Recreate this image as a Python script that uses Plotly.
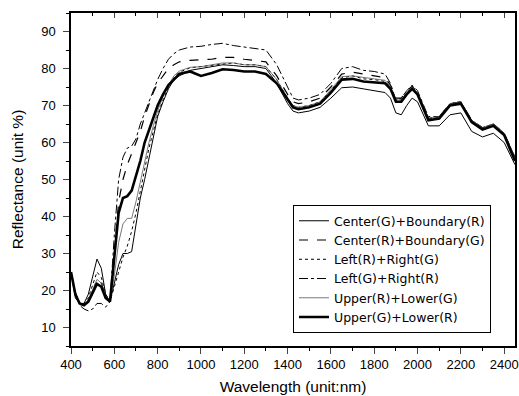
import plotly.graph_objects as go

wavelength = [400, 420, 440, 460, 480, 500, 520, 540, 560, 580, 600, 620, 640, 660, 680, 700,
              720, 740, 760, 780, 800, 825, 850, 875, 900, 950, 1000, 1050, 1100, 1150, 1200,
              1250, 1300, 1350, 1400, 1425, 1450, 1500, 1550, 1600, 1650, 1700, 1750, 1800,
              1850, 1875, 1900, 1925, 1950, 1975, 2000, 2050, 2100, 2150, 2200, 2250, 2300,
              2350, 2400, 2450]

center_g_boundary_r = [25, 18, 16.5, 16.5, 19, 24, 28.5, 26, 19, 17, 22, 27, 30, 30, 30.5, 38,
                       45, 50, 56, 62, 67, 71, 74.5, 77, 78, 79.5, 80, 80.5, 81, 80.8, 80.5,
                       80.5, 80, 76, 70.5, 68.5, 68, 68.5, 69.5, 72, 74.8, 75, 74.5, 74,
                       73.5, 72, 68, 67.5, 70, 72, 71, 64.5, 64.5, 67.5, 68, 63, 61.5,
                       62.5, 60, 54]

center_r_boundary_g = [25, 19.5, 16.5, 16, 17, 19.5, 23, 22, 18.5, 17, 30, 44, 50, 54, 57, 60,
                       63, 67, 70.5, 73.5, 76, 78, 80, 81, 81.8, 82.2, 82.3, 82.5, 83, 83, 82.5,
                       82.2, 81.8, 78, 73, 71, 70.5, 71, 72, 75, 78.5, 79, 78.5, 78,
                       77.5, 75.5, 72, 72, 74, 75.2, 73.5, 66.5, 67, 70.5, 71, 66, 64,
                       65, 62.5, 56]

left_r_right_g = [25, 19, 16.5, 16.5, 18, 21.5, 25, 23.5, 19, 17, 21, 25, 29, 32, 36, 41,
                  47, 53, 58.5, 63, 67.5, 71.5, 75, 77.5, 79, 80.2, 80.5, 80.8, 81.2, 81.5, 81,
                  81, 80.5, 77, 72, 70, 69.5, 70, 71, 74, 77.5, 78, 77.2, 77,
                  76.5, 75, 71.5, 71.5, 73.5, 74.8, 73.3, 66.3, 66.8, 70.3, 70.8, 65.8, 63.8,
                  64.8, 62.2, 55.5]

left_g_right_r = [25, 19, 16, 15, 14.5, 15, 16.5, 16.5, 15.5, 17, 35, 50, 56, 58.5, 59, 61,
                  65, 68, 71, 74, 77, 80, 82.5, 84, 85, 85.8, 86, 86.5, 86.8, 86.2, 85.8,
                  85.5, 85, 81, 75, 72, 71.5, 72, 73, 76, 80, 80.5, 79.5, 79.2,
                  78.5, 76, 71.5, 72, 74, 75.5, 74, 67, 67, 70.5, 71, 66, 64,
                  65, 62.5, 56]

upper_r_lower_g = [25, 19, 16.5, 16, 17.5, 20.5, 23, 22, 18.5, 17, 24, 33, 38, 39.5, 39.5, 44,
                   49.5, 55, 60, 64.5, 68.5, 72.5, 75.5, 78, 79.3, 80.3, 80.5, 81, 81.5, 81.5, 81,
                   81, 80.5, 77, 72, 70, 69.5, 70, 71, 74.3, 77.8, 78, 77.5, 77.2,
                   76.8, 75.2, 71.5, 71.5, 73.5, 75, 73.5, 66.5, 67, 70.5, 71, 66, 64,
                   65, 62.5, 56]

upper_g_lower_r = [25, 19, 16.5, 16, 17, 19.5, 21.8, 21, 18, 17, 30, 41, 45, 45.5, 47, 51,
                   55, 60, 63.5, 67, 70, 73, 75.5, 77, 78.5, 79.2, 78, 78.8, 79.8, 79.6, 79.2,
                   79.2, 78.5, 76, 71.5, 69.5, 69, 69.5, 70.5, 73.5, 77, 77.2, 76.5, 76.2,
                   76, 74.5, 71, 71, 73, 74.5, 73, 66, 66.5, 70, 70.5, 65.5, 63.5,
                   64.5, 62, 55]

series_names = ["Center(G)+Boundary(R)", "Center(R)+Boundary(G)", "Left(R)+Right(G)",
                "Left(G)+Right(R)", "Upper(R)+Lower(G)", "Upper(G)+Lower(R)"]
series_values = [center_g_boundary_r, center_r_boundary_g, left_r_right_g,
                 left_g_right_r, upper_r_lower_g, upper_g_lower_r]
styles = [dict(color="black", width=1, dash="solid"),
          dict(color="black", width=1.2, dash="dash"),
          dict(color="black", width=1, dash="dot"),
          dict(color="black", width=1, dash="dashdot"),
          dict(color="#555555", width=0.8, dash="solid"),
          dict(color="black", width=2.6, dash="solid")]

fig = go.Figure()
for name, vals, st in zip(series_names, series_values, styles):
    fig.add_trace(go.Scatter(x=wavelength, y=vals, mode="lines", name=name, line=st))

# invisible trace for top mirror axis
fig.add_trace(go.Scatter(x=[wavelength[0]], y=[upper_g_lower_r[0]], xaxis="x2", mode="lines",
                         showlegend=False, hoverinfo="skip", line=dict(width=0)))

font_family = "Liberation Sans, Arial, sans-serif"
fig.update_layout(
    width=519, height=396,
    margin=dict(l=71, r=0, t=13, b=50),
    paper_bgcolor="white", plot_bgcolor="white",
    font=dict(family=font_family, color="black", size=13),
    xaxis=dict(range=[400, 2450], tick0=400, dtick=200, ticks="outside", ticklen=6,
               tickwidth=1.2, showline=True, linecolor="black", linewidth=1.5,
               mirror=True, showgrid=False, zeroline=False, ticklabeloverflow="allow",
               minor=dict(dtick=100, ticks="outside", ticklen=3, tickcolor="black"),
               title=dict(text="Wavelength (unit:nm)", font=dict(size=15.5), standoff=10),
               tickfont=dict(size=13)),
    xaxis2=dict(overlaying="x", side="top", range=[400, 2450], tick0=400, dtick=200,
                ticks="inside", ticklen=5, tickwidth=1.2, showticklabels=False,
                showgrid=False, zeroline=False, showline=False,
                minor=dict(dtick=100, ticks="inside", ticklen=3, tickcolor="black")),
    yaxis=dict(range=[5, 95], tick0=10, dtick=10, ticks="outside", ticklen=6,
               tickwidth=1.2, showline=True, linecolor="black", linewidth=1.5,
               mirror=True, showgrid=False, zeroline=False,
               minor=dict(dtick=5, ticks="outside", ticklen=3, tickcolor="black"),
               ticklabelstandoff=5,
               title=dict(text="Reflectance (unit %)", font=dict(size=15.5), standoff=14),
               tickfont=dict(size=13)),
    legend=dict(x=0.5, y=0.423, xanchor="left", yanchor="top",
                bgcolor="white", bordercolor="black", borderwidth=1,
                font=dict(size=12.5, family="DejaVu Sans"), tracegroupgap=0),
    showlegend=True,
)

fig.write_html("out.html")
